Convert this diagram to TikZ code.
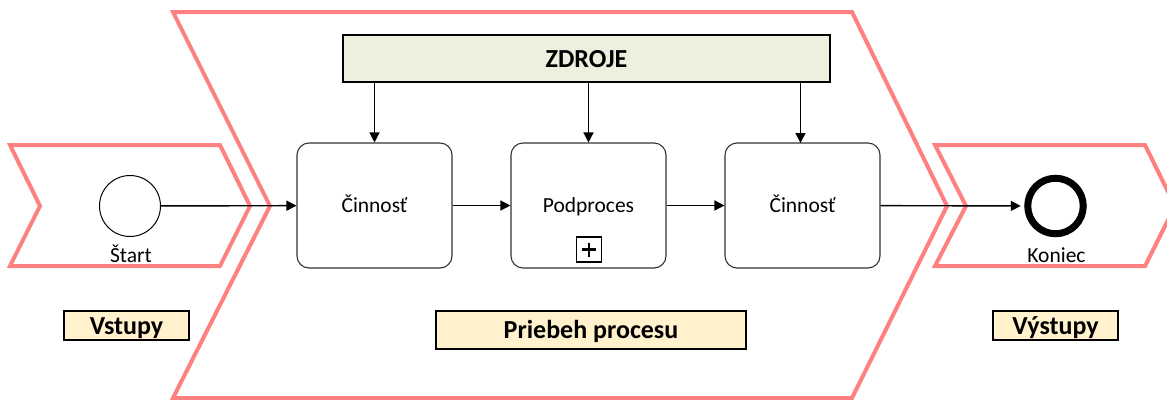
\documentclass[tikz,border=0pt]{standalone}
\usepackage{fontspec}
\setmainfont{Carlito}
\usetikzlibrary{arrows.meta}
\definecolor{chevronline}{HTML}{FF8080}
\definecolor{resourcefill}{HTML}{EBF1DE}
\definecolor{titlefill}{HTML}{FFF2CC}
\begin{document}
\begin{tikzpicture}[x=1pt,y=-1pt,
  chevron/.style={draw=chevronline, line width=4pt, line join=miter},
  task/.style={draw=black!80, line width=1.1pt, rounded corners=12pt,
    minimum width=155pt, minimum height=125pt, inner sep=0pt,
    font=\fontsize{21.5}{24}\selectfont, text height=15pt, text depth=1pt},
  flow/.style={-{Triangle[length=10pt,width=10pt]}, line width=1.4pt},
  titlebox/.style={draw, line width=1.4pt, fill=titlefill, inner sep=0pt,
    font=\bfseries\fontsize{26}{28}\selectfont, text height=19.5pt, text depth=2.5pt},
  caption/.style={font=\fontsize{21.5}{24}\selectfont, anchor=base, inner sep=0pt}]
\useasboundingbox (0,0) rectangle (1167,399);

% value chain chevrons
\draw[chevron] (10,145) -- (220,145) -- (250,206) -- (220,266) -- (10,266) -- (40,206) -- cycle;
\draw[chevron] (173,12) -- (852,12) -- (947,206) -- (852,398) -- (173,398) -- (270,206) -- cycle;
\draw[chevron] (935,145) -- (1145,145) -- (1175,206) -- (1145,266) -- (935,266) -- (966,206) -- cycle;

% resources
\node[draw, line width=1.4pt, fill=resourcefill, minimum width=487pt, minimum height=47pt,
  inner sep=0pt, font=\bfseries\fontsize{26}{28}\selectfont, text height=19.5pt, text depth=2.5pt]
  (res) at (586.5,58.5) {ZDROJE};

% events
\node[circle, draw, line width=1pt, minimum size=61pt, inner sep=0pt] (start) at (130,206) {};
\node[caption] (startlbl) at (131,262) {Štart};
\node[circle, draw, line width=7pt, minimum size=55.5pt, inner sep=0pt] (end) at (1055.5,206) {};
\node[caption] (endlbl) at (1056.5,262) {Koniec};

% activities
\node[task] (t1) at (374.5,205.5) {Činnosť};
\node[task] (sub) at (588.5,205.5) {Podproces};
\node[task] (t2) at (802.5,205.5) {Činnosť};
\node[draw, line width=1.3pt, minimum size=25pt, inner sep=0pt] (plusmark) at (589,249.5) {};
\draw[line width=2.6pt] (plusmark.center) ++(-7,0) -- ++(14,0);
\draw[line width=2.6pt] (plusmark.center) ++(0,-7) -- ++(0,14);

% sequence flow
\draw[flow] (start) -- (t1);
\draw[flow] (t1) -- (sub);
\draw[flow] (sub) -- (t2);
\draw[flow, shorten >=3.5pt] (t2) -- (end);

% resource flow
\coordinate (t2in) at (800.5,143);
\draw[flow] (res.south -| t1.north) -- (t1.north);
\draw[flow] (res.south -| sub.north) -- (sub.north);
\draw[flow] (res.south -| t2in) -- (t2in);

% section titles
\node[titlebox, minimum width=125pt, minimum height=29pt] (inputs) at (126.5,325.5) {Vstupy};
\node[titlebox, minimum width=310pt, minimum height=38pt] (process) at (591,330) {Priebeh procesu};
\node[titlebox, minimum width=125pt, minimum height=29pt] (outputs) at (1055.5,325.5) {Výstupy};
\end{tikzpicture}
\end{document}
